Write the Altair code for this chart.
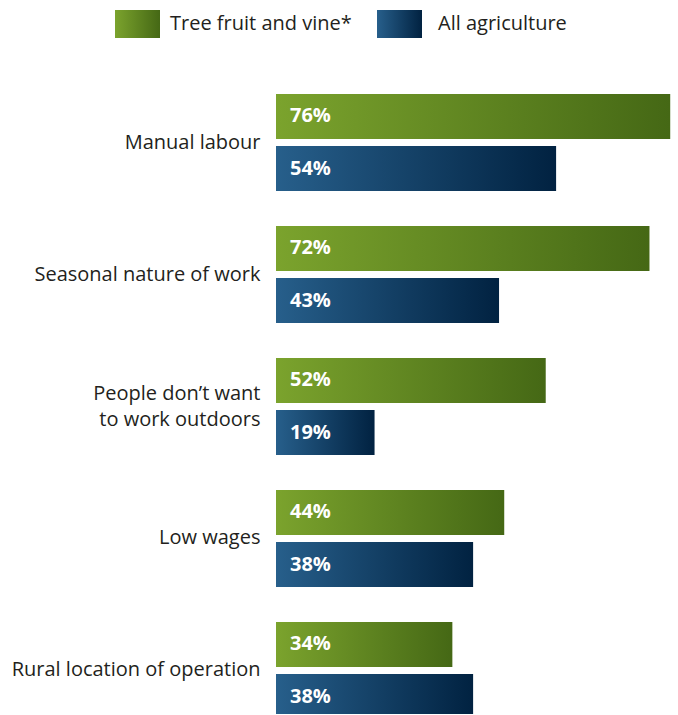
import altair as alt
import pandas as pd

categories = [
    "Manual labour",
    "Seasonal nature of work",
    "People don’t want\nto work outdoors",
    "Low wages",
    "Rural location of operation",
]
series = ["Tree fruit and vine*", "All agriculture"]
tree_fruit = [76, 72, 52, 44, 34]
all_agri = [54, 43, 19, 38, 38]

rows = []
for c, v in zip(categories, tree_fruit):
    rows.append({"category": c, "series": series[0], "value": v})
for c, v in zip(categories, all_agri):
    rows.append({"category": c, "series": series[1], "value": v})
df = pd.DataFrame(rows)

FONT = "Open Sans"
TXT = "#231f20"

def grad(c0, c1):
    return alt.Gradient(
        gradient="linear",
        stops=[alt.GradientStop(color=c0, offset=0), alt.GradientStop(color=c1, offset=1)],
        x1=0, x2=1, y1=0, y2=0,
    )

g_green = grad("#7ba32d", "#456815")
g_blue = grad("#275f8b", "#012241")

y_enc = alt.Y(
    "category:N", sort=categories,
    scale=alt.Scale(paddingInner=0.265, paddingOuter=0, range=[0, 625]),
    axis=alt.Axis(
        title=None, domain=False, ticks=False,
        labelExpr="split(datum.value, '\\n')",
        labelFont=FONT, labelFontSize=20, labelColor=TXT,
        labelPadding=16, labelLineHeight=26, labelLimit=400,
        labelOffset={"condition": {"test": "indexof(datum.value, '\\n') >= 0", "value": -13}, "value": 0},
    ),
)
yoff_enc = alt.YOffset(
    "series:N", sort=series,
    scale=alt.Scale(domain=series, paddingInner=0.135, paddingOuter=0),
)
x_enc = alt.X("value:Q", scale=alt.Scale(domain=[0, 77.5], nice=False), axis=None)

base = alt.Chart(df).encode(y=y_enc, yOffset=yoff_enc)

green = base.transform_filter(alt.datum.series == series[0]).mark_bar(color=g_green).encode(x=x_enc)
blue = base.transform_filter(alt.datum.series == series[1]).mark_bar(color=g_blue).encode(x=x_enc)

labels = base.transform_calculate(label="datum.value + '%'").mark_text(
    align="left", baseline="middle", dx=14, color="white",
    font=FONT, fontWeight="bold", fontSize=20,
).encode(x=alt.datum(0), text="label:N")

leg1 = pd.DataFrame({"label": [series[0]]})
leg2 = pd.DataFrame({"label": [series[1]]})

sw1 = alt.Chart(leg1).mark_rect(color=g_green).encode(
    x=alt.value(-161), x2=alt.value(-116), y=alt.value(-84), y2=alt.value(-56))
tx1 = alt.Chart(leg1).mark_text(align="left", baseline="middle", font=FONT, fontSize=20, color=TXT).encode(
    x=alt.value(-106), y=alt.value(-70), text="label:N")
sw2 = alt.Chart(leg2).mark_rect(color=g_blue).encode(
    x=alt.value(101), x2=alt.value(146), y=alt.value(-84), y2=alt.value(-56))
tx2 = alt.Chart(leg2).mark_text(align="left", baseline="middle", font=FONT, fontSize=20, color=TXT).encode(
    x=alt.value(162), y=alt.value(-70), text="label:N")

chart = alt.layer(green, blue, labels, sw1, tx1, sw2, tx2).properties(
    width=402, height=620,
    autosize=alt.AutoSizeParams(type="none"),
    padding={"left": 276, "top": 94, "right": 0, "bottom": 0},
).configure_view(stroke=None)

chart.save("out.html", embed_options={"renderer": "svg", "actions": False})
